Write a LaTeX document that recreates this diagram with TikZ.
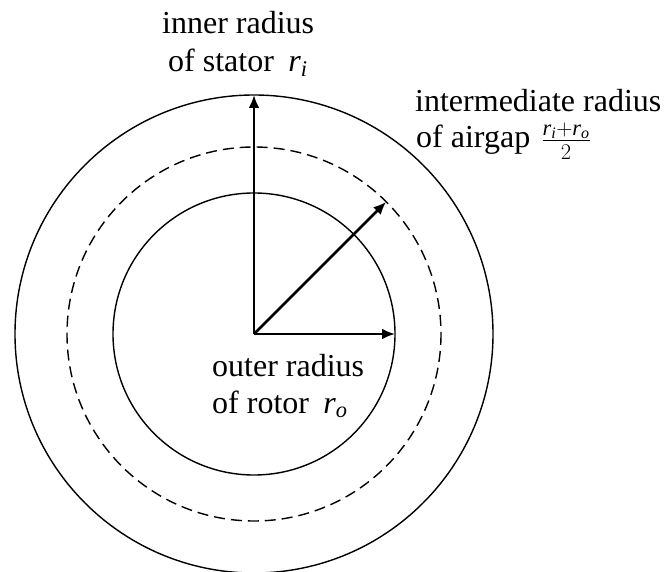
\RequirePackage{fix-cm}
\documentclass[tikz,border=0pt]{standalone}
\usepackage{fontspec}
\setmainfont{Liberation Serif}
\usetikzlibrary{arrows.meta,calc}
\newcommand{\rsub}[1]{\mathit{r}_{\mathit{#1}}}
\begin{document}
\begin{tikzpicture}[x=1pt,y=-1pt,
  ring/.style={line width=1.4pt},
  gapring/.style={line width=1.4pt, dash pattern=on 11pt off 6pt},
  radarrow/.style={line width=2.6pt, -{Latex[length=13pt,width=11pt]}},
  lbl/.style={anchor=base west, inner sep=0pt, font=\fontsize{32}{38}\selectfont}]
\useasboundingbox (0,0) rectangle (670,572);
\coordinate (c) at (254,334);
\draw[ring] (c) circle[radius=239];
\draw[gapring] (c) circle[radius=187];
\draw[ring] (c) circle[radius=141];
\coordinate (ti) at ($(c)+(0,-239)$);
\coordinate (tm) at ($(c)+(132.2,-132.2)$);
\coordinate (to) at ($(c)+(141,0)$);
\draw[radarrow] (c) -- (ti);
\draw[radarrow] (c) -- (tm);
\draw[radarrow] (c) -- (to);
\node[lbl] (inner1) at (162,34) {inner radius};
\node[lbl] (inner2) at (168,72) {of stator\hspace{0.2em} $\rsub{i}$};
\node[lbl] (mid1) at (415,112) {intermediate radius};
\node[lbl] (mid2) at (416,148) {of airgap\hspace{0.1em} $\frac{\rsub{i}+\rsub{o}}{2}$};
\node[lbl] (outer1) at (212,377) {outer radius};
\node[lbl] (outer2) at (212,413) {of rotor\hspace{0.2em} $\rsub{o}$};
\end{tikzpicture}
\end{document}
